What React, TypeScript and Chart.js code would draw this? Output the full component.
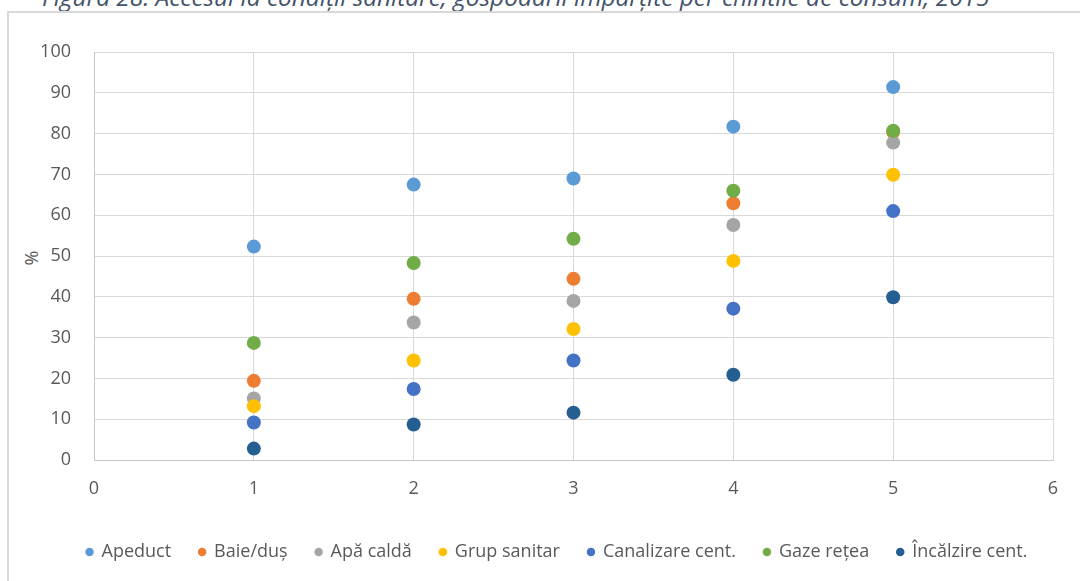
import React, { useEffect, useRef } from "react";
import { Chart, registerables } from "chart.js";

Chart.register(...registerables);

const TITLE = "Figura 28: Accesul la condiții sanitare, gospodării împărțite per chintile de consum, 2015";
const Y_TITLE = "%";

const quintiles = [1, 2, 3, 4, 5];

const seriesNames = [
  "Apeduct",
  "Baie/duș",
  "Apă caldă",
  "Grup sanitar",
  "Canalizare cent.",
  "Gaze rețea",
  "Încălzire cent.",
];

const apeduct = [52.3, 67.5, 69.0, 81.7, 91.4];
const baieDus = [19.4, 39.5, 44.4, 62.9, 80.4];
const apaCalda = [15.1, 33.7, 39.0, 57.6, 77.8];
const grupSanitar = [13.2, 24.4, 32.1, 48.8, 69.9];
const canalizare = [9.2, 17.4, 24.4, 37.1, 61.0];
const gazeRetea = [28.7, 48.3, 54.2, 66.0, 80.7];
const incalzire = [2.8, 8.7, 11.6, 20.9, 39.9];

const seriesValues = [apeduct, baieDus, apaCalda, grupSanitar, canalizare, gazeRetea, incalzire];

const seriesColors = ["#5B9BD5", "#ED7D31", "#A5A5A5", "#FFC000", "#4472C4", "#70AD47", "#255E91"];

const FONT = "'Open Sans', 'Liberation Sans', sans-serif";
const TEXT = "#595959";

const LEGEND_PAD = 28;

const legendShift = {
  id: "legendShift",
  afterLayout(chart: any) {
    if (chart.legend) {
      chart.legend.left = 0;
      chart.legend.right = 1114;
    }
  },
};

export default function App() {
  const canvasRef = useRef<HTMLCanvasElement | null>(null);

  useEffect(() => {
    const canvas = canvasRef.current;
    if (!canvas) return;
    const chart = new Chart(canvas, {
      type: "scatter",
      data: {
        datasets: seriesNames.map((name, i) => ({
          label: name,
          data: quintiles.map((q, j) => ({ x: q, y: seriesValues[i][j] })),
          backgroundColor: seriesColors[i],
          borderColor: seriesColors[i],
          borderWidth: 0,
          pointRadius: 7,
          pointHoverRadius: 7,
          order: -i,
        })),
      },
      plugins: [legendShift],
      options: {
        responsive: false,
        animation: false,
        devicePixelRatio: 1,
        layout: { padding: { left: 20, right: 27, top: 52, bottom: 10 } },
        plugins: {
          tooltip: { enabled: false },
          legend: {
            position: "bottom",
            labels: {
              usePointStyle: true,
              pointStyle: "circle",
              boxWidth: 6,
              boxHeight: 6,
              padding: LEGEND_PAD,
              color: TEXT,
              font: { family: FONT, size: 18 },
              sort: (a: any, b: any) => a.datasetIndex - b.datasetIndex,
            },
          },
        },
        scales: {
          x: {
            type: "linear",
            min: 0,
            max: 6,
            ticks: { stepSize: 1, color: TEXT, font: { family: FONT, size: 18 }, padding: 18 },
            grid: { color: "#d9d9d9", lineWidth: 1, drawTicks: false },
            border: { color: "#c8c8c8", width: 1 },
            afterFit: (scale: any) => {
              scale.height = 83 - LEGEND_PAD;
            },
          },
          y: {
            min: 0,
            max: 100,
            ticks: { stepSize: 10, color: TEXT, font: { family: FONT, size: 18 }, padding: 23 },
            grid: { color: "#d9d9d9", lineWidth: 1, drawTicks: false },
            border: { color: "#c8c8c8", width: 1 },
            afterFit: (scale: any) => {
              scale.width = 74;
            },
          },
        },
      },
    });
    return () => chart.destroy();
  }, []);

  return (
    <div
      style={{
        position: "absolute",
        left: 0,
        top: 0,
        width: 1080,
        height: 581,
        overflow: "hidden",
        background: "#ffffff",
      }}
    >
      <div
        style={{
          position: "absolute",
          left: 42,
          top: -15,
          fontFamily: FONT,
          fontStyle: "italic",
          fontSize: 24.4,
          lineHeight: "24px",
          color: "#44546A",
          whiteSpace: "nowrap",
        }}
      >
        {TITLE}
      </div>
      <div
        style={{
          position: "absolute",
          left: 7,
          top: 11,
          width: 1100,
          height: 600,
          border: "2px solid #d9d9d9",
          boxSizing: "border-box",
        }}
      />
      <div
        style={{
          position: "absolute",
          left: 31,
          top: 258,
          transform: "translate(-50%, -50%) rotate(-90deg)",
          fontFamily: FONT,
          fontSize: 18,
          color: TEXT,
          lineHeight: "18px",
        }}
      >
        {Y_TITLE}
      </div>
      <canvas
        ref={canvasRef}
        width={1080}
        height={581}
        style={{ position: "absolute", left: 0, top: 0, width: 1080, height: 581 }}
      />
    </div>
  );
}
